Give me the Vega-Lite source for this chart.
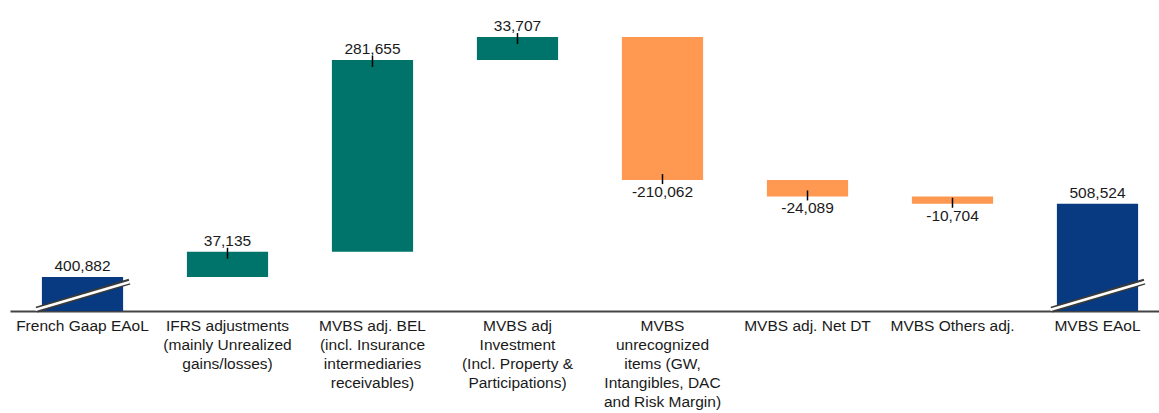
{
  "$schema": "https://vega.github.io/schema/vega-lite/v6.json",
  "width": 1160,
  "height": 304,
  "padding": {"left": 10, "top": 7, "right": 0, "bottom": 0},
  "config": {
    "view": {"stroke": null},
    "locale": {"number": {"decimal": ".", "thousands": ",", "grouping": [3], "currency": ["$", ""], "minus": "-"}},
    "font": "Liberation Sans"
  },
  "data": {
    "values": [
      {"category": "French Gaap EAoL", "kind": "total", "start": 0, "end": 400882, "amount": 400882},
      {"category": "IFRS adjustments\n(mainly Unrealized\ngains/losses)", "kind": "increase", "start": 400882, "end": 438017, "amount": 37135},
      {"category": "MVBS adj. BEL\n(incl. Insurance\nintermediaries\nreceivables)", "kind": "increase", "start": 438017, "end": 719672, "amount": 281655},
      {"category": "MVBS adj\nInvestment\n(Incl. Property &\nParticipations)", "kind": "increase", "start": 719672, "end": 753379, "amount": 33707},
      {"category": "MVBS\nunrecognized\nitems (GW,\nIntangibles, DAC\nand Risk Margin)", "kind": "decrease", "start": 753379, "end": 543317, "amount": -210062},
      {"category": "MVBS adj. Net DT", "kind": "decrease", "start": 543317, "end": 519228, "amount": -24089},
      {"category": "MVBS Others adj.", "kind": "decrease", "start": 519228, "end": 508524, "amount": -10704},
      {"category": "MVBS EAoL", "kind": "total", "start": 0, "end": 508524, "amount": 508524}
    ]
  },
  "encoding": {
    "x": {
      "field": "category",
      "type": "nominal",
      "sort": null,
      "title": null,
      "scale": {"paddingInner": 0.44, "paddingOuter": 0.22},
      "axis": {
        "labelAngle": 0,
        "labelExpr": "split(datum.label, '\\n')",
        "labelFont": "Liberation Sans",
        "labelFontSize": 15.5,
        "labelColor": "#1a1a1a",
        "labelLineHeight": 19,
        "labelPadding": 7,
        "labelLimit": 0,
        "labelBaseline": "top",
        "ticks": false,
        "domainColor": "#444444",
        "domainWidth": 2,
        "grid": false
      }
    }
  },
  "layer": [
    {
      "mark": {"type": "bar", "clip": true},
      "encoding": {
        "y": {"field": "start", "type": "quantitative", "scale": {"domain": [351000, 797500], "zero": false, "nice": false}, "axis": null},
        "y2": {"field": "end"},
        "color": {
          "field": "kind",
          "type": "nominal",
          "scale": {"domain": ["total", "increase", "decrease"], "range": ["#073a80", "#00746a", "#ff9850"]},
          "legend": null
        }
      }
    },
    {
      "transform": [{"filter": "datum.kind === 'total'"}],
      "mark": {"type": "rule", "stroke": "#3a3a3a", "strokeWidth": 6, "xOffset": -46, "x2Offset": 47, "strokeCap": "butt"},
      "encoding": {
        "x2": {"field": "category"},
        "y": {"datum": 353000, "type": "quantitative"},
        "y2": {"datum": 394000}
      }
    },
    {
      "transform": [{"filter": "datum.kind === 'total'"}],
      "mark": {"type": "rule", "stroke": "#ffffff", "strokeWidth": 2.6, "xOffset": -47, "x2Offset": 48, "strokeCap": "butt"},
      "encoding": {
        "x2": {"field": "category"},
        "y": {"datum": 353000, "type": "quantitative"},
        "y2": {"datum": 394000}
      }
    },
    {
      "transform": [{"filter": "datum.kind === 'increase'"}],
      "mark": {"type": "rule", "stroke": "#000000", "strokeWidth": 1.5, "yOffset": -4, "y2Offset": 7},
      "encoding": {
        "y": {"field": "end", "type": "quantitative"},
        "y2": {"field": "end"}
      }
    },
    {
      "transform": [{"filter": "datum.kind === 'decrease'"}],
      "mark": {"type": "rule", "stroke": "#000000", "strokeWidth": 1.5, "yOffset": -6, "y2Offset": 4},
      "encoding": {
        "y": {"field": "end", "type": "quantitative"},
        "y2": {"field": "end"}
      }
    },
    {
      "transform": [{"filter": "datum.kind !== 'decrease'"}],
      "mark": {"type": "text", "baseline": "alphabetic", "dy": -6, "fontSize": 15.5, "font": "Liberation Sans", "color": "#1a1a1a"},
      "encoding": {
        "y": {"field": "end", "type": "quantitative"},
        "text": {"field": "amount", "type": "quantitative", "format": ",d"}
      }
    },
    {
      "transform": [{"filter": "datum.kind === 'decrease'"}],
      "mark": {"type": "text", "baseline": "top", "dy": 5, "fontSize": 15.5, "font": "Liberation Sans", "color": "#1a1a1a"},
      "encoding": {
        "y": {"field": "end", "type": "quantitative"},
        "text": {"field": "amount", "type": "quantitative", "format": ",d"}
      }
    }
  ]
}
